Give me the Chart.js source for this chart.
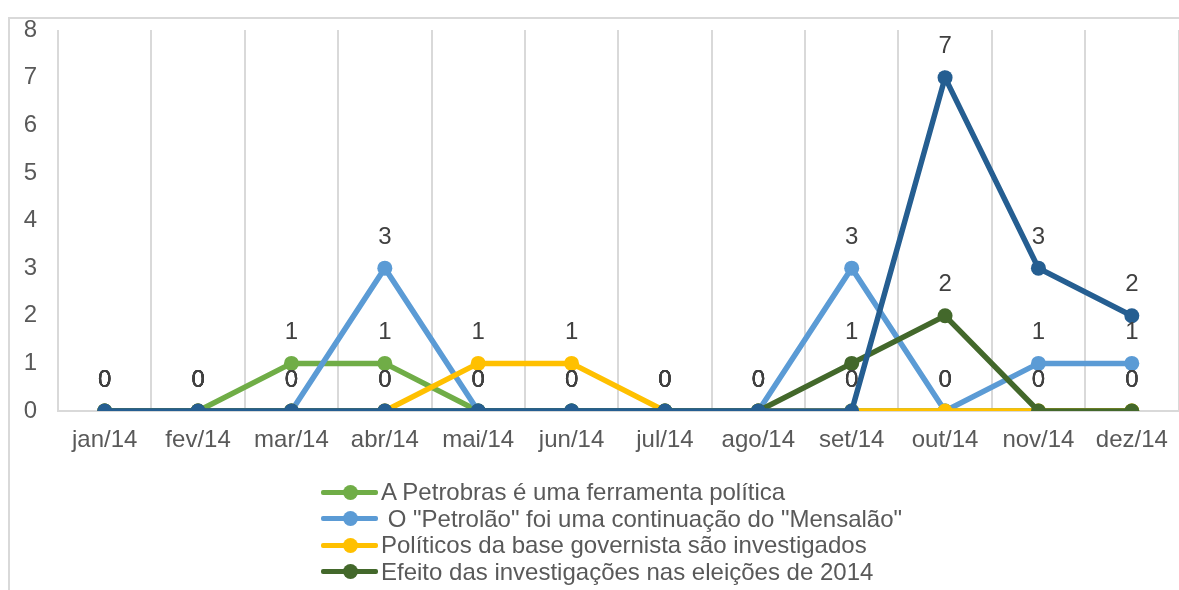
<!DOCTYPE html>
<html>
<head>
<meta charset="utf-8">
<script src="https://cdn.jsdelivr.net/npm/chart.js@4/dist/chart.umd.min.js"></script>
<style>
  html, body { margin: 0; padding: 0; background: #fff; overflow: hidden; }
  #wrap { position: relative; width: 1179px; height: 590px; overflow: hidden; }
  #frame {
    position: absolute; left: 8px; top: 17px; right: -10px; bottom: -10px;
    border-left: 2px solid #d9d9d9; border-top: 2px solid #d9d9d9;
  }
  #chartBox { position: absolute; left: 0; top: 0; width: 1186px; height: 590px; }
  #legend {
    position: absolute; left: 321px; top: 479px;
    font-family: "Liberation Sans", Arial, sans-serif; font-size: 24px; color: #595959;
  }
  .item { height: 26.5px; line-height: 26.5px; white-space: pre; display: flex; align-items: center; }
  .icon { position: relative; width: 57px; height: 5px; border-radius: 2px; margin-right: 3px; flex: none; }
  .icon::after {
    content: ""; position: absolute; left: 21.5px; top: -5px; width: 15px; height: 15px;
    border-radius: 50%; background: inherit;
  }
</style>
</head>
<body>
<div id="wrap">
  <div id="frame"></div>
  <div id="chartBox"><canvas id="chartMeses"></canvas></div>
  <div id="legend"></div>
</div>
<script>
// --- dados ---
const meses = ['jan/14', 'fev/14', 'mar/14', 'abr/14', 'mai/14', 'jun/14',
               'jul/14', 'ago/14', 'set/14', 'out/14', 'nov/14', 'dez/14'];

const petrobrasFerramenta = [0, 0, 1, 1, 0, 0, 0, 0, 0, 0, 0, 0];
const petrolaoMensalao    = [0, 0, 0, 3, 0, 0, 0, 0, 3, 0, 1, 1];
const baseInvestigados    = [0, 0, 0, 0, 1, 1, 0, 0, 0, 0, 0, 0];
const efeitoEleicoes      = [0, 0, 0, 0, 0, 0, 0, 0, 1, 2, 0, 0];
const quintaSerie         = [0, 0, 0, 0, 0, 0, 0, 0, 0, 7, 3, 2];

const yTicks = [0, 1, 2, 3, 4, 5, 6, 7, 8];

const nomes = [
    'A Petrobras é uma ferramenta política',
    ' O "Petrolão" foi uma continuação do "Mensalão"',
    'Políticos da base governista são investigados',
    'Efeito das investigações nas eleições de 2014',
    'Série 5'
];
const cores = ['#70AD47', '#5B9BD5', '#FFC000', '#43682B', '#255E91'];
const valores = [petrobrasFerramenta, petrolaoMensalao, baseInvestigados, efeitoEleicoes, quintaSerie];
const noLegenda = [true, true, true, true, false];

const FONT = '"Liberation Sans", Arial, sans-serif';

// rótulos de dados acima de cada ponto
const rotulosPlugin = {
    id: 'rotulos',
    afterDatasetsDraw(chart) {
        const ctx = chart.ctx;
        ctx.save();
        ctx.font = '24px ' + FONT;
        ctx.fillStyle = '#404040';
        ctx.textAlign = 'center';
        ctx.textBaseline = 'middle';
        chart.data.datasets.forEach((ds, i) => {
            const meta = chart.getDatasetMeta(i);
            meta.data.forEach((pt, j) => {
                const v = ds.data[j];
                if (v === null || v === undefined) return;
                ctx.fillText(String(v), pt.x, pt.y - 31);
            });
        });
        ctx.restore();
    }
};

const datasets = valores.map((arr, i) => ({
    label: nomes[i],
    data: arr,
    borderColor: cores[i],
    backgroundColor: cores[i],
    pointBackgroundColor: cores[i],
    pointBorderColor: cores[i],
    borderWidth: 5.5,
    pointRadius: 7.5,
    pointBorderWidth: 0,
    tension: 0,
    fill: false,
    order: valores.length - i   // última série desenhada por cima
}));

const ctx = document.getElementById('chartMeses').getContext('2d');
new Chart(ctx, {
    type: 'line',
    data: { labels: meses, datasets: datasets },
    options: {
        responsive: true,
        maintainAspectRatio: false,
        animation: false,
        layout: { padding: { top: 30, left: 0, right: 0, bottom: 0 } },
        plugins: {
            legend: { display: false },
            tooltip: { enabled: false }
        },
        scales: {
            x: {
                offset: true,
                grid: { offset: true, color: '#d9d9d9', lineWidth: 2, drawTicks: false },
                border: { display: true, color: '#d9d9d9', width: 2 },
                ticks: { color: '#595959', font: { family: FONT, size: 24 }, padding: 15, maxRotation: 0, autoSkip: false },
                afterFit(scale) { scale.height = 179; }
            },
            y: {
                min: yTicks[0],
                max: yTicks[yTicks.length - 1],
                grid: { display: false, drawTicks: false },
                border: { display: false },
                ticks: { stepSize: 1, color: '#595959', font: { family: FONT, size: 24 }, padding: 21 },
                afterFit(scale) {
                    scale.width = 58;
                    scale.paddingTop = 0;
                    scale.paddingBottom = 0;
                }
            }
        }
    },
    plugins: [rotulosPlugin]
});

// legenda em HTML (uma entrada por linha)
const legendEl = document.getElementById('legend');
nomes.forEach((nome, i) => {
    if (!noLegenda[i]) return;
    const row = document.createElement('div');
    row.className = 'item';
    const icon = document.createElement('span');
    icon.className = 'icon';
    icon.style.background = cores[i];
    const txt = document.createElement('span');
    txt.textContent = nome;
    row.appendChild(icon);
    row.appendChild(txt);
    legendEl.appendChild(row);
});
</script>
</body>
</html>
